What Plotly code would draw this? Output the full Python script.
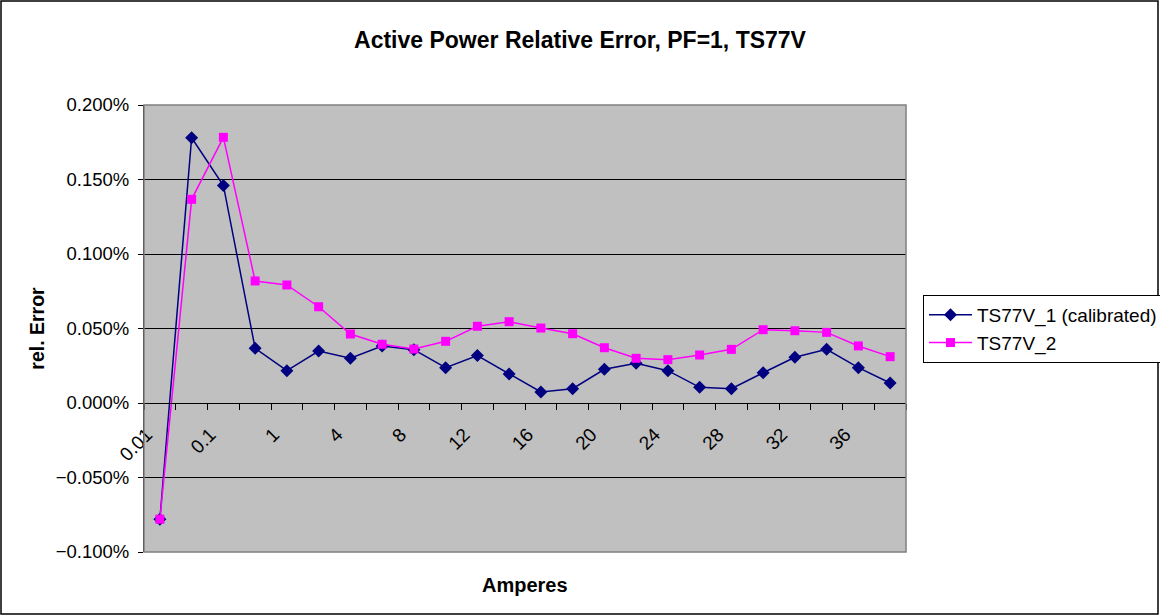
import plotly.graph_objects as go

categories = ["0.01", "0.05", "0.1", "0.5", "1", "2", "4", "6", "8", "10", "12", "14",
              "16", "18", "20", "22", "24", "26", "28", "30", "32", "34", "36", "38"]
ts77v_1 = [-0.078, 0.178, 0.146, 0.0367, 0.0217, 0.0349, 0.0300, 0.0383, 0.0358, 0.0237,
           0.0318, 0.0195, 0.0074, 0.0096, 0.0226, 0.0266, 0.0217, 0.0105, 0.0096, 0.0203,
           0.0307, 0.0360, 0.0237, 0.0134]
ts77v_2 = [-0.078, 0.1367, 0.1783, 0.0819, 0.0792, 0.0646, 0.0463, 0.0394, 0.0362, 0.0414,
           0.0515, 0.0546, 0.0503, 0.0465, 0.0371, 0.0300, 0.0291, 0.0322, 0.0360, 0.0492,
           0.0485, 0.0474, 0.0383, 0.0311]
tick_labels = [c if i % 2 == 0 else "" for i, c in enumerate(categories)]

W, H = 1160, 615
L, R, T, B = 144, 254, 105, 63
PW, PH = W - L - R, H - T - B
FONT = "Liberation Sans, Arial, sans-serif"

y1 = [v / 100 for v in ts77v_1]
y2 = [v / 100 for v in ts77v_2]

fig = go.Figure()
fig.add_trace(go.Scatter(x=categories, y=y1, mode="lines+markers", name="TS77V_1 (calibrated)",
                         line=dict(color="#000080", width=1.5),
                         marker=dict(symbol="diamond", size=10, color="#000080")))
fig.add_trace(go.Scatter(x=categories, y=y2, mode="lines+markers", name="TS77V_2",
                         line=dict(color="#FF00FF", width=1.5),
                         marker=dict(symbol="square", size=9, color="#FF00FF")))

ymin, ymax = -0.001, 0.002
fig.update_layout(
    width=W, height=H, autosize=False,
    margin=dict(l=L, r=R, t=T, b=B, pad=0),
    paper_bgcolor="white", plot_bgcolor="#C0C0C0",
    font=dict(family=FONT, size=18, color="black"),
    title=dict(text="<b>Active Power Relative Error, PF=1, TS77V</b>", x=0.5, xref="container",
               xanchor="center", y=1 - 40 / H, yref="container", yanchor="middle",
               font=dict(size=23, family=FONT)),
    showlegend=True,
    legend=dict(xref="container", yref="container", x=923 / W, xanchor="left",
                y=1 - 295 / H, yanchor="top",
                bordercolor="black", borderwidth=1, bgcolor="white", itemwidth=43,
                font=dict(size=19, family=FONT), tracegroupgap=0),
    xaxis=dict(type="category", categoryorder="array", categoryarray=categories,
               tickvals=categories, ticktext=tick_labels, tickson="boundaries",
               ticks="outside", ticklen=6, tickcolor="black", tickangle=-45,
               ticklabelstandoff=12, ticklabelshift=-13,
               showgrid=False, showline=True, linecolor="black", linewidth=1,
               anchor="free", position=(0 - ymin) / (ymax - ymin),
               range=[-0.5, len(categories) - 0.5], zeroline=False,
               tickfont=dict(size=19, family=FONT)),
    yaxis=dict(range=[ymin, ymax], dtick=0.0005, tickformat=".3%",
               showgrid=True, gridcolor="black", gridwidth=1,
               zeroline=True, zerolinecolor="black", zerolinewidth=1,
               showline=True, linecolor="black", linewidth=1,
               ticks="outside", ticklen=5, tickcolor="black", ticklabelstandoff=5,
               title=dict(text="<b>rel. Error</b>", standoff=5, font=dict(size=19.5, family=FONT)),
               tickfont=dict(size=18.5, family=FONT)),
    annotations=[dict(text="<b>Amperes</b>", xref="paper", yref="paper", x=0.5,
                      y=-(585 - (H - B)) / PH, xanchor="center", yanchor="middle",
                      showarrow=False, font=dict(size=20, family=FONT))],
    shapes=[
        dict(type="rect", xref="paper", yref="paper", x0=0, x1=1, y0=0, y1=1,
             line=dict(color="#808080", width=1.5), layer="above"),
        dict(type="rect", xref="paper", yref="paper",
             x0=-(L - 1) / PW, x1=(W - L - 2) / PW,
             y0=-(B - 1) / PH, y1=(PH + T - 1) / PH,
             line=dict(color="black", width=1.5)),
    ],
)

post = (
    "document.documentElement.style.margin='0';"
    "document.documentElement.style.overflow='hidden';"
    "document.body.style.margin='0';"
    "document.body.style.overflow='hidden';"
)

fig.write_html(
    "out.html",
    config={"displayModeBar": False, "responsive": False},
    post_script=post,
)
